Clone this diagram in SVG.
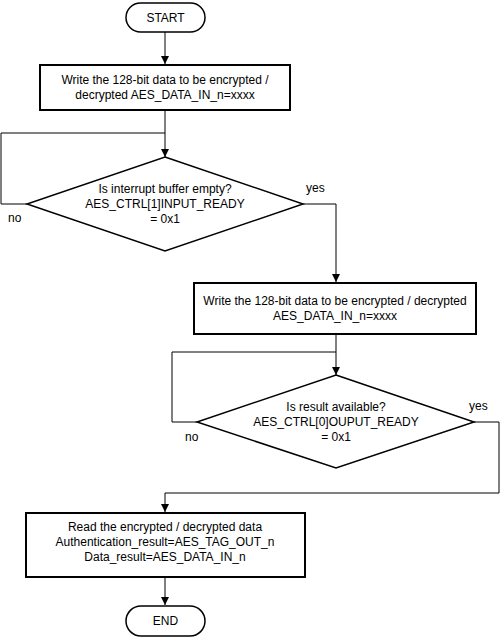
<svg xmlns="http://www.w3.org/2000/svg" width="500" height="639" viewBox="0 0 500 639">
<style>
.t{font-family:"Liberation Sans",Arial,sans-serif;font-size:12px;fill:#000;text-anchor:middle}
.l{font-family:"Liberation Sans",Arial,sans-serif;font-size:12px;fill:#000}
.box{fill:#fff;stroke:#000;stroke-width:2}
.term{fill:#fff;stroke:#000;stroke-width:1.5}
.dia{fill:#fff;stroke:#000;stroke-width:1.5}
.c{fill:none;stroke:#000;stroke-width:1}
</style>
<defs>
<marker id="ah" viewBox="0 0 10 10" refX="10" refY="5" markerWidth="8" markerHeight="8" markerUnits="userSpaceOnUse" orient="auto">
<path d="M0,0 L10,5 L0,10 Z" fill="#000"/>
</marker>
</defs>
<rect width="500" height="639" fill="#fff"/>
<g id="connectors">
<path class="c" d="M165,32 V64" marker-end="url(#ah)"/>
<path class="c" d="M165,110 V157" marker-end="url(#ah)"/>
<path class="c" d="M27,204 H1 V133 H165"/>
<path class="c" d="M303,204 H336 V282" marker-end="url(#ah)"/>
<path class="c" d="M336,334 V375" marker-end="url(#ah)"/>
<path class="c" d="M197,422 H172 V352 H336"/>
<path class="c" d="M474,422 H499 V493 H165 V512" marker-end="url(#ah)"/>
<path class="c" d="M165,577 V605" marker-end="url(#ah)"/>
</g>
<g id="start">
<rect class="term" x="126" y="3" width="79" height="29" rx="14.5"/>
<text class="t" x="165.5" y="22">START</text>
</g>
<g id="write1">
<rect class="box" x="40" y="65" width="250" height="45"/>
<text class="t" x="165" y="84">Write the 128-bit data to be encrypted /</text>
<text class="t" x="165" y="99">decrypted AES_DATA_IN_n=xxxx</text>
</g>
<g id="check1">
<polygon class="dia" points="165,157 303,204 165,251 27,204"/>
<text class="t" x="165" y="193">Is interrupt buffer empty?</text>
<text class="t" x="165" y="208">AES_CTRL[1]INPUT_READY</text>
<text class="t" x="165" y="223">= 0x1</text>
<text class="l" x="8" y="222">no</text>
<text class="l" x="306" y="192">yes</text>
</g>
<g id="write2">
<rect class="box" x="194" y="283" width="282" height="51"/>
<text class="t" x="335" y="305">Write the 128-bit data to be encrypted / decrypted</text>
<text class="t" x="335" y="320">AES_DATA_IN_n=xxxx</text>
</g>
<g id="check2">
<polygon class="dia" points="336,375 474,422 336,468 197,422"/>
<text class="t" x="336" y="411">Is result available?</text>
<text class="t" x="336" y="426">AES_CTRL[0]OUPUT_READY</text>
<text class="t" x="336" y="441">= 0x1</text>
<text class="l" x="185" y="441">no</text>
<text class="l" x="469" y="410">yes</text>
</g>
<g id="read">
<rect class="box" x="26" y="513" width="279" height="64"/>
<text class="t" x="165" y="531">Read the encrypted / decrypted data</text>
<text class="t" x="165" y="546">Authentication_result=AES_TAG_OUT_n</text>
<text class="t" x="165" y="561">Data_result=AES_DATA_IN_n</text>
</g>
<g id="end">
<rect class="term" x="126" y="606" width="79" height="30" rx="15"/>
<text class="t" x="165.5" y="625">END</text>
</g>
</svg>
